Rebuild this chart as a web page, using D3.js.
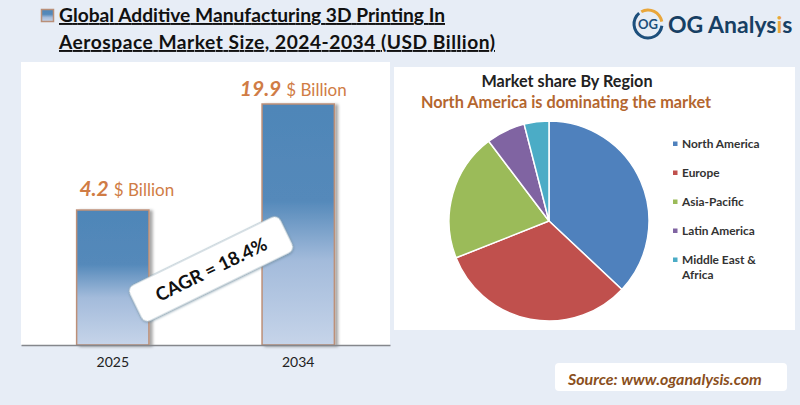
<!DOCTYPE html>
<html>
<head>
<meta charset="utf-8">
<script src="https://cdn.jsdelivr.net/npm/d3@7"></script>
<style>
html,body{margin:0;padding:0;background:#e7edf6;}
svg{display:block;}
text{font-family:Lato,"Open Sans",sans-serif;}
</style>
</head>
<body>
<svg id="chart" width="800" height="405"></svg>
<script>
// values
var years = ["2025", "2034"];
var marketSize = ["4.2", "19.9"];
// the bars are not to scale in the original, so heights are kept as drawn (% of tallest)
var barLevels = [56, 100];
var regions = ["North America", "Europe", "Asia-Pacific", "Latin America", "Middle East &"];
var regionShare = [37, 32, 20.7, 6.3, 4];
var regionColors = ["#4f81bd", "#c0504d", "#9bbb59", "#8064a2", "#4bacc6"];
var titleLines = ["Global Additive Manufacturing 3D Printing In", "Aerospace Market Size, 2024-2034 (USD Billion)"];

var svg = d3.select("#chart");
var defs = svg.append("defs");

var grad = defs.append("linearGradient").attr("id", "barFill")
	.attr("x1", 0).attr("y1", 0).attr("x2", 0).attr("y2", 1);
grad.append("stop").attr("offset", "0%").attr("stop-color", "#4f86b8");
grad.append("stop").attr("offset", "40%").attr("stop-color", "#5489ba");
grad.append("stop").attr("offset", "65%").attr("stop-color", "#a3bbdb");
grad.append("stop").attr("offset", "100%").attr("stop-color", "#c6d4e9");

var shadow = defs.append("filter").attr("id", "barShadow")
	.attr("x", "-20%").attr("y", "-10%").attr("width", "150%").attr("height", "120%");
shadow.append("feDropShadow").attr("dx", 3).attr("dy", 1).attr("stdDeviation", 1.5)
	.attr("flood-color", "#000").attr("flood-opacity", 0.35);

var boxShadow = defs.append("filter").attr("id", "boxShadow")
	.attr("x", "-10%").attr("y", "-20%").attr("width", "120%").attr("height", "150%");
boxShadow.append("feDropShadow").attr("dx", 0).attr("dy", 1).attr("stdDeviation", 1)
	.attr("flood-color", "#5a7a90").attr("flood-opacity", 0.6);

// panels
svg.append("rect").attr("x", 21).attr("y", 62).attr("width", 369).attr("height", 283).attr("fill", "#fff");
svg.append("rect").attr("x", 394).attr("y", 67).attr("width", 401).attr("height", 263).attr("fill", "#fff");

// title, widths forced since Calibri is not installed
var titleWidths = [386, 436];
svg.append("rect").attr("x", 41.5).attr("y", 9.5).attr("width", 12).attr("height", 12)
	.attr("fill", "url(#barFill)").attr("stroke", "#b98f78").attr("stroke-width", 1.5);
svg.selectAll(".title").data(titleLines).enter().append("text")
	.attr("class", "title")
	.attr("x", 59)
	.attr("y", function (d, i) { return 22 + i * 27; })
	.attr("font-size", 19.2).attr("font-weight", 700).attr("fill", "#111")
	.attr("textLength", function (d, i) { return titleWidths[i]; })
	.attr("lengthAdjust", "spacing")
	.style("text-decoration", "underline")
	.text(function (d) { return d; });

// bars
var x = d3.scaleBand().domain(years).range([21, 390]).paddingInner(0.61).paddingOuter(0.3);
var y = d3.scaleLinear().domain([0, 100]).range([345, 104]);

svg.selectAll(".bar").data(years).enter().append("rect")
	.attr("class", "bar")
	.attr("x", function (d) { return x(d); })
	.attr("y", function (d, i) { return y(barLevels[i]); })
	.attr("width", x.bandwidth())
	.attr("height", function (d, i) { return y(0) - y(barLevels[i]); })
	.attr("fill", "url(#barFill)")
	.attr("stroke", "#bd9078").attr("stroke-width", 1.5)
	.attr("filter", "url(#barShadow)");

var axis = svg.append("g").attr("transform", "translate(0,345)")
	.call(d3.axisBottom(x).tickSize(0).tickPadding(12));
axis.select(".domain").attr("stroke", "#85878c").attr("stroke-width", 1.5);
axis.selectAll("text").attr("font-size", 14).attr("fill", "#222")
	.style("font-family", "Lato,sans-serif");

// value labels sit off centre in the original
var labelShiftX = [14, -5];
var labelShiftY = [14, 8];
var valueLabels = svg.selectAll(".val").data(years).enter().append("text")
	.attr("class", "val")
	.attr("x", function (d, i) { return x(d) + x.bandwidth() / 2 + labelShiftX[i]; })
	.attr("y", function (d, i) { return y(barLevels[i]) - labelShiftY[i]; })
	.attr("text-anchor", "middle").attr("fill", "#d07c45");
valueLabels.append("tspan").attr("font-size", 21).attr("font-weight", 700).attr("font-style", "italic")
	.text(function (d, i) { return marketSize[i]; });
valueLabels.append("tspan").attr("font-size", 17).attr("dx", 5).text("$ Billion");

// CAGR box
var cagr = svg.append("g").attr("transform", "translate(211,269) rotate(-26)");
cagr.append("rect").attr("x", -84).attr("y", -20).attr("width", 168).attr("height", 40).attr("rx", 7)
	.attr("fill", "#fff").attr("stroke", "#8fa9b8").attr("stroke-width", 0.7)
	.attr("filter", "url(#boxShadow)");
cagr.append("text").attr("text-anchor", "middle").attr("y", 7)
	.attr("font-size", 18.5).attr("font-weight", 700).attr("fill", "#111").text("CAGR = 18.4%");

// pie
svg.append("text").attr("x", 567).attr("y", 87).attr("text-anchor", "middle")
	.attr("font-size", 16.2).attr("font-weight", 700).attr("fill", "#222").text("Market share By Region");
svg.append("text").attr("x", 566).attr("y", 108).attr("text-anchor", "middle")
	.attr("font-size", 16.3).attr("font-weight", 700).attr("fill", "#b4662f").text("North America is dominating the market");

var pie = d3.pie().sort(null)(regionShare);
var arc = d3.arc().innerRadius(0).outerRadius(100);
svg.append("g").attr("transform", "translate(549,221)")
	.selectAll("path").data(pie).enter().append("path")
	.attr("d", arc)
	.attr("fill", function (d, i) { return regionColors[i]; })
	.attr("stroke", "#fff").attr("stroke-width", 1.5);

// legend
var legendY = d3.scalePoint().domain(regions).range([144, 260]);
var legend = svg.selectAll(".legend").data(regions).enter().append("g")
	.attr("class", "legend")
	.attr("transform", function (d) { return "translate(673," + legendY(d) + ")"; });
legend.append("rect").attr("x", 0).attr("y", -2.5).attr("width", 4.5).attr("height", 4.5)
	.attr("fill", function (d, i) { return regionColors[i]; });
legend.append("text").attr("x", 9).attr("y", 4).attr("font-size", 11.9).attr("font-weight", 700)
	.attr("fill", "#333").text(function (d) { return d; });
svg.append("text").attr("x", 682).attr("y", 279).attr("font-size", 11.9).attr("font-weight", 700)
	.attr("fill", "#333").text("Africa");

// source
svg.append("rect").attr("x", 555).attr("y", 363).attr("width", 232).attr("height", 28).attr("rx", 4).attr("fill", "#fff");
svg.append("text").attr("x", 568).attr("y", 385).attr("font-size", 16).attr("font-weight", 700)
	.attr("font-style", "italic").attr("fill", "#8a4f1d").text("Source: www.oganalysis.com");

// logo
var logo = svg.append("g").attr("transform", "translate(648,24)");
var logoArc = d3.arc().innerRadius(12.5).outerRadius(15.5);
logo.append("path").attr("d", logoArc({startAngle: -0.5, endAngle: 1.4})).attr("fill", "#e9a63b");
logo.append("path").attr("d", logoArc({startAngle: 1.7, endAngle: 5.6})).attr("fill", "#1d4f7c");
logo.append("text").attr("text-anchor", "middle").attr("y", 4.5).attr("font-size", 13).attr("font-weight", 700)
	.attr("fill", "#1d4f7c").text("OG");
var logoText = svg.append("text").attr("x", 668).attr("y", 33).attr("font-size", 23).attr("font-weight", 700).attr("fill", "#173f63");
logoText.append("tspan").text("OG Analys");
logoText.append("tspan").attr("fill", "#e9a63b").text("i");
logoText.append("tspan").text("s");
</script>
</body>
</html>
